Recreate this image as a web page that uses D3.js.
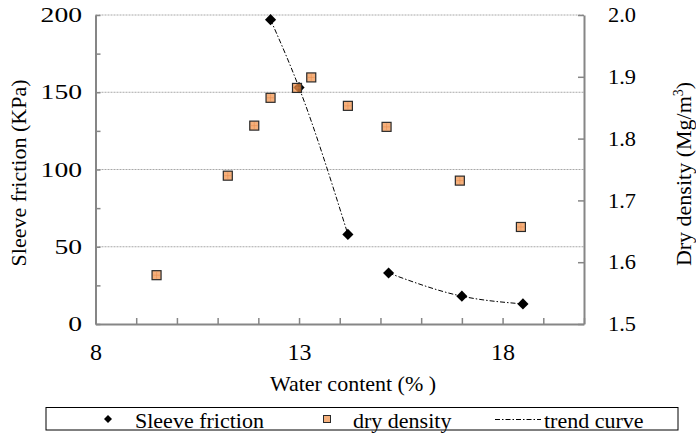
<!DOCTYPE html>
<html>
<head>
<meta charset="utf-8">
<script src="https://cdn.jsdelivr.net/npm/d3@7/dist/d3.min.js"></script>
<style>
  html, body { margin: 0; padding: 0; background: #fff; }
  svg text { font-family: "Liberation Serif", "DejaVu Serif", serif; }
</style>
</head>
<body>
<svg id="chart" width="696" height="437"></svg>
<script>
// Water content (%) at each test point
const sleeveWater = [12.3, 13.0, 14.2, 15.2, 17.0, 18.5];
// Sleeve friction (KPa)
const sleeveFriction = [197, 153, 58, 33, 18, 13];
// Trend curve is drawn through two groups of the sleeve friction points
const trendGroups = [[0, 1, 2], [3, 4, 5]];

const densityWater = [9.5, 11.25, 11.9, 12.3, 12.95, 13.3, 14.2, 15.15, 16.95, 18.45];
// Dry density (Mg/m3)
const dryDensity = [1.579, 1.740, 1.821, 1.866, 1.882, 1.899, 1.853, 1.819, 1.732, 1.657];

const xTickLabels = [8, 13, 18];
const leftTickLabels = [0, 50, 100, 150, 200];
const rightTickLabels = [1.5, 1.6, 1.7, 1.8, 1.9, 2.0];

const FONT = "Liberation Serif, DejaVu Serif, serif";
const svg = d3.select("#chart");
const plotLeft = 95.5, plotRight = 584, plotTop = 15, plotBottom = 324;

const x = d3.scaleLinear().domain([8, 20]).range([plotLeft, plotRight]);
const yL = d3.scaleLinear().domain([0, 200]).range([plotBottom, plotTop]);
const yR = d3.scaleLinear().domain([1.5, 2.0]).range([plotBottom, plotTop]);

const axisColor = "#868686";

// horizontal gridlines at the labelled friction values
svg.append("g")
  .selectAll("line")
  .data(leftTickLabels.filter(d => d > 0))
  .join("line")
  .attr("x1", plotLeft).attr("x2", plotRight)
  .attr("y1", d => yL(d)).attr("y2", d => yL(d))
  .attr("stroke", "#a8a8a8")
  .attr("stroke-width", 1)
  .attr("stroke-dasharray", "2,1");

// axis lines with inward tick marks
function styleAxis(g) {
  g.select(".domain").attr("stroke", axisColor).attr("stroke-width", 2);
  g.selectAll(".tick line").attr("stroke", axisColor).attr("stroke-width", 1.5);
  g.selectAll(".tick text").remove();
}

svg.append("g")
  .attr("transform", `translate(${plotLeft},0)`)
  .call(d3.axisLeft(yL).tickValues(d3.range(0, 201, 25)).tickSize(-5).tickSizeOuter(0))
  .call(styleAxis);

svg.append("g")
  .attr("transform", `translate(${plotRight},0)`)
  .call(d3.axisRight(yR).tickValues(rightTickLabels).tickSize(-6).tickSizeOuter(0))
  .call(styleAxis);

svg.append("g")
  .attr("transform", `translate(0,${plotBottom})`)
  .call(d3.axisBottom(x).tickValues(d3.range(8, 21, 1)).tickSize(-6).tickSizeOuter(0))
  .call(styleAxis);

// tick labels
const leftLab = svg.append("g")
  .attr("transform", `translate(${plotLeft},0)`)
  .call(d3.axisLeft(yL).tickValues(leftTickLabels).tickSize(0).tickPadding(13.5));
leftLab.select(".domain").remove();
leftLab.attr("font-family", FONT);
leftLab.selectAll("text")
  .attr("font-size", 21)
  .attr("fill", "#000")
  .attr("textLength", d => String(d).length * 13.8)
  .attr("lengthAdjust", "spacingAndGlyphs");

const rightLab = svg.append("g")
  .attr("transform", `translate(${plotRight},0)`)
  .call(d3.axisRight(yR).tickValues(rightTickLabels).tickSize(0).tickPadding(24).tickFormat(d3.format(".1f")));
rightLab.select(".domain").remove();
rightLab.attr("font-family", FONT);
rightLab.selectAll("text")
  .attr("font-size", 21)
  .attr("fill", "#000")
  .attr("textLength", 28)
  .attr("lengthAdjust", "spacingAndGlyphs");

const xLab = svg.append("g")
  .attr("transform", `translate(0,${plotBottom})`)
  .call(d3.axisBottom(x).tickValues(xTickLabels).tickSize(0).tickPadding(19));
xLab.select(".domain").remove();
xLab.attr("font-family", FONT);
xLab.selectAll("text")
  .attr("font-size", 24)
  .attr("fill", "#000");

// axis titles
svg.append("text")
  .attr("transform", `translate(26,173) rotate(-90)`)
  .attr("text-anchor", "middle")
  .style("font-family", FONT)
  .attr("font-size", 22)
  .text("Sleeve friction (KPa)");

const rt = svg.append("text")
  .attr("transform", `translate(691,174) rotate(-90)`)
  .attr("text-anchor", "middle")
  .style("font-family", FONT)
  .attr("font-size", 22);
rt.append("tspan").text("Dry density (Mg/m");
rt.append("tspan").attr("font-size", 14).attr("dy", -8).text("3");
rt.append("tspan").attr("dy", 8).text(")");

svg.append("text")
  .attr("x", 353).attr("y", 391)
  .attr("text-anchor", "middle")
  .style("font-family", FONT)
  .attr("font-size", 22)
  .text("Water content (% )");

// trend curve through the friction points
const trendLine = d3.line()
  .x(i => x(sleeveWater[i]))
  .y(i => yL(sleeveFriction[i]))
  .curve(d3.curveMonotoneX);

svg.append("g")
  .selectAll("path")
  .data(trendGroups)
  .join("path")
  .attr("d", trendLine)
  .attr("fill", "none")
  .attr("stroke", "#000")
  .attr("stroke-width", 1)
  .attr("stroke-dasharray", "5,2,1.5,2");

// sleeve friction markers
const diamond = d3.symbol().type(d3.symbolSquare).size(62);
svg.append("g")
  .selectAll("path")
  .data(sleeveWater.map((w, i) => [w, sleeveFriction[i]]))
  .join("path")
  .attr("d", diamond)
  .attr("transform", d => `translate(${x(d[0])},${yL(d[1])}) rotate(45)`)
  .attr("fill", "#000");

// dry density markers
const sq = 9;
const dens = svg.append("g")
  .selectAll("g")
  .data(densityWater.map((w, i) => [w, dryDensity[i]]))
  .join("g")
  .attr("transform", d => `translate(${x(d[0])},${yR(d[1])})`);
dens.append("rect")
  .attr("x", -sq / 2).attr("y", -sq / 2)
  .attr("width", sq).attr("height", sq)
  .attr("fill", "#F18E44")
  .attr("fill-opacity", 0.7)
  .attr("stroke", "#2a2a2a")
  .attr("stroke-width", 1.2);
dens.append("path")
  .attr("d", `M0,${-sq / 2 + 1}V${sq / 2 - 1}M${-sq / 2 + 1},0H${sq / 2 - 1}`)
  .attr("stroke", "#E8894A")
  .attr("stroke-opacity", 0.6)
  .attr("stroke-width", 0.8);

// legend
const lg = svg.append("g").attr("font-size", 22);
lg.append("rect")
  .attr("x", 46).attr("y", 407.5)
  .attr("width", 632).attr("height", 22.5)
  .attr("fill", "#fff")
  .attr("stroke", "#000")
  .attr("stroke-width", 1);
lg.append("path")
  .attr("d", d3.symbol().type(d3.symbolSquare).size(32))
  .attr("transform", "translate(108,419) rotate(45)")
  .attr("fill", "#000");
lg.append("text").attr("x", 135).attr("y", 428).style("font-family", FONT).text("Sleeve friction");
lg.append("rect")
  .attr("x", 323.5).attr("y", 415.5).attr("width", 7).attr("height", 7)
  .attr("fill", "#F18E44").attr("fill-opacity", 0.7)
  .attr("stroke", "#2a2a2a").attr("stroke-width", 1);
lg.append("text").attr("x", 353).attr("y", 428).style("font-family", FONT).text("dry density");
lg.append("line")
  .attr("x1", 495).attr("x2", 541).attr("y1", 419.5).attr("y2", 419.5)
  .attr("stroke", "#000").attr("stroke-width", 1)
  .attr("stroke-dasharray", "5,2,1.5,2");
lg.append("text").attr("x", 544).attr("y", 428).style("font-family", FONT).text("trend curve");
</script>
</body>
</html>
